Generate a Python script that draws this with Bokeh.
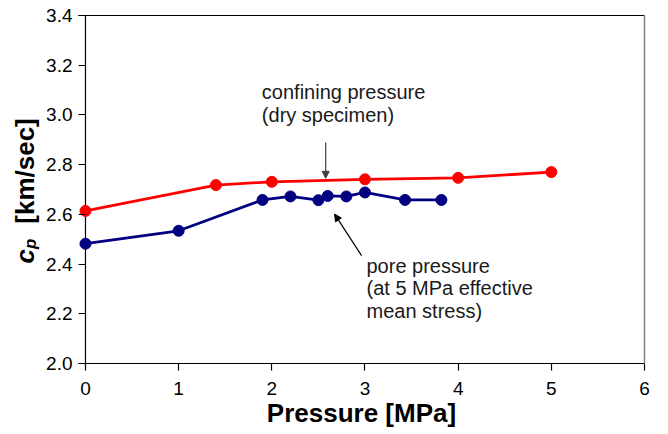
import math
from bokeh.plotting import figure
from bokeh.layouts import row
from bokeh.models import (Range1d, FixedTicker, PrintfTickFormatter, LinearAxis,
                          Label, Arrow, NormalHead)
from bokeh.embed import file_html
from bokeh.resources import INLINE

# ---- data ----
confining_x = [0, 1.4, 2.0, 3.0, 4.0, 5.0]
confining_y = [2.614, 2.718, 2.731, 2.741, 2.747, 2.770]

pore_x = [0, 1.0, 1.9, 2.2, 2.5, 2.6, 2.8, 3.0, 3.43, 3.82]
pore_y = [2.482, 2.534, 2.658, 2.672, 2.657, 2.674, 2.672, 2.688, 2.658, 2.658]

x_ticks = [0, 1, 2, 3, 4, 5, 6]
y_ticks = [2.0, 2.2, 2.4, 2.6, 2.8, 3.0, 3.2, 3.4]

FONT = "Liberation Sans"
X0 = -0.075  # left end of range, so markers at x=0 are not clipped
H = 430
TW = 42      # width of the strip holding the y-axis title
Y_RANGE = (2.0, 3.4)

# ---- strip with the y-axis title (c_p [km/sec]) ----
t = figure(width=TW, height=H, output_backend="svg", toolbar_location=None,
           x_range=Range1d(0, TW), y_range=Range1d(*Y_RANGE),
           x_axis_location=None, y_axis_location=None,
           min_border=0, min_border_left=0, min_border_right=0,
           min_border_top=15, min_border_bottom=64)
t.outline_line_color = None
t.grid.visible = False
ang = math.pi / 2
t.add_layout(Label(x=24, y=2.4315, text="c", angle=ang, text_font=FONT,
                   text_font_size="26px", text_font_style="bold italic",
                   text_color="black", text_baseline="middle", text_align="center"))
t.add_layout(Label(x=29.5, y=2.4814, text="p", angle=ang, text_font=FONT,
                   text_font_size="17px", text_font_style="bold italic",
                   text_color="black", text_baseline="middle", text_align="center"))
t.add_layout(Label(x=24, y=2.7745, text="[km/sec]", angle=ang, text_font=FONT,
                   text_font_size="26px", text_font_style="bold",
                   text_color="black", text_baseline="middle", text_align="center"))

# ---- main plot ----
p = figure(width=616, height=H, output_backend="svg", toolbar_location=None,
           x_range=Range1d(X0, 6.0), y_range=Range1d(*Y_RANGE),
           min_border_left=78 - TW, min_border_right=14, min_border_top=15,
           min_border_bottom=64)
p.outline_line_color = None
p.grid.visible = False
p.background_fill_color = "white"

# bottom axis
xa = p.xaxis[0]
xa.ticker = FixedTicker(ticks=x_ticks)
xa.formatter = PrintfTickFormatter(format="%d")
xa.major_tick_out = 7
xa.major_tick_in = 0
xa.minor_tick_line_color = None
xa.axis_line_color = "black"
xa.axis_line_width = 1.2
xa.major_tick_line_width = 1.2
xa.major_label_text_font = FONT
xa.major_label_text_font_size = "19px"
xa.major_label_text_color = "black"
xa.major_label_standoff = 11
xa.axis_label = "Pressure [MPa]"
xa.axis_label_text_font = FONT
xa.axis_label_text_font_size = "26px"
xa.axis_label_text_font_style = "bold"
xa.axis_label_text_color = "black"
xa.axis_label_standoff = 0

# left axis at the frame edge: its inward ticks end exactly at x = 0
ya = p.yaxis[0]
ya.ticker = FixedTicker(ticks=y_ticks)
ya.formatter = PrintfTickFormatter(format="%.1f")
ya.major_tick_out = 0
ya.major_tick_in = 7
ya.minor_tick_line_color = None
ya.axis_line_color = None
ya.major_tick_line_color = "black"
ya.major_tick_line_width = 1.2
ya.major_label_text_font = FONT
ya.major_label_text_font_size = "19px"
ya.major_label_text_color = "black"
ya.major_label_standoff = 6

# y axis line at x = 0
p.segment(x0=[0], y0=[y_ticks[0]], x1=[0], y1=[y_ticks[-1]], line_color="black", line_width=1.2)

# top (black) and right (grey) frame lines
top = LinearAxis(ticker=FixedTicker(ticks=[]), major_tick_out=0, major_tick_in=0,
                 minor_tick_line_color=None, major_label_text_font_size="0px",
                 major_label_standoff=0, axis_line_color="black", axis_line_width=1.2)
p.add_layout(top, "above")
right = LinearAxis(ticker=FixedTicker(ticks=[]), major_tick_out=0, major_tick_in=0,
                   minor_tick_line_color=None, major_label_text_font_size="0px",
                   major_label_standoff=0, axis_line_color="#808080", axis_line_width=1.5)
p.add_layout(right, "right")

# series
p.line(confining_x, confining_y, line_color="#FF0000", line_width=2.8)
p.scatter(confining_x, confining_y, size=11, fill_color="#FF0000", line_color="#FF0000")
p.line(pore_x, pore_y, line_color="#000080", line_width=2.8)
p.scatter(pore_x, pore_y, size=11, fill_color="#000080", line_color="#000080")

# annotations
for txt, yy in [("confining pressure", 3.092), ("(dry specimen)", 3.0)]:
    p.add_layout(Label(x=1.893, y=yy, text=txt, text_font=FONT, text_font_size="20px",
                       text_color="#1a1a1a", text_baseline="middle", text_align="left"))
for txt, yy in [("pore pressure", 2.394), ("(at 5 MPa effective", 2.302), ("mean stress)", 2.21)]:
    p.add_layout(Label(x=3.016, y=yy, text=txt, text_font=FONT, text_font_size="20px",
                       text_color="#1a1a1a", text_baseline="middle", text_align="left"))

p.add_layout(Arrow(x_start=2.578, y_start=2.889, x_end=2.578, y_end=2.745,
                   line_color="#404040", line_width=1.2,
                   end=NormalHead(size=7, fill_color="#404040", line_color="#404040")))
p.add_layout(Arrow(x_start=2.963, y_start=2.434, x_end=2.674, y_end=2.601,
                   line_color="black", line_width=1.2,
                   end=NormalHead(size=7, fill_color="black", line_color="black")))

layout = row(t, p, spacing=0)
open("out.html", "w").write(file_html(layout, INLINE))
